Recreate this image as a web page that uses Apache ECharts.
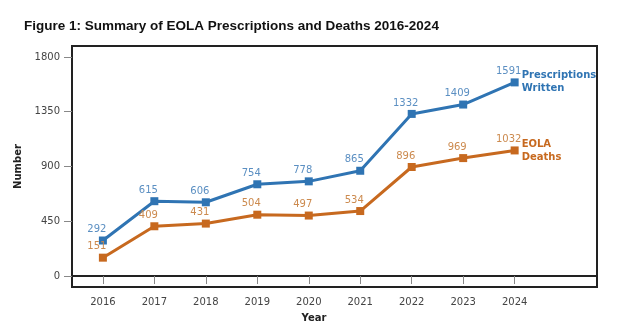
<!DOCTYPE html>
<html><head><meta charset="utf-8">
<script src="https://cdn.jsdelivr.net/npm/echarts@6/dist/echarts.min.js"></script>
<style>html,body{margin:0;padding:0;background:#fff}#c{width:620px;height:326px}</style>
</head><body><div id="c"></div>
<script>
const years = [2016, 2017, 2018, 2019, 2020, 2021, 2022, 2023, 2024];
const prescriptions = [292, 615, 606, 754, 778, 865, 1332, 1409, 1591];
const deaths = [151, 409, 431, 504, 497, 534, 896, 969, 1032];
const yTicks = [0, 450, 900, 1350, 1800];
const seriesNames = ['Prescriptions\nWritten', 'EOLA\nDeaths'];

const blue = '#2f74b3', orange = '#c7691f';
const blueLbl = '#5b8fc2', orangeLbl = '#cc8a4e';
const font = 'DejaVu Sans';

function mk(name, vals, color, lblColor) {
  return {
    type: 'line', name: name,
    data: years.map((y, i) => [y, vals[i]]),
    lineStyle: { color: color, width: 3 },
    itemStyle: { color: color },
    symbol: 'rect', symbolSize: 8,
    label: { show: true, position: 'top', distance: 2, offset: [-6, 0], color: lblColor, fontFamily: font, fontSize: 10,
      formatter: p => p.value[1] },
    endLabel: { show: true, formatter: name, color: color, fontFamily: font, fontWeight: 'bold', fontSize: 10, lineHeight: 13, distance: 7 },
    animation: false, z: 3
  };
}

const chart = echarts.init(document.getElementById('c'), null, { renderer: 'canvas' });
chart.setOption({
  animation: false,
  title: [
    { text: 'Figure 1: Summary of EOLA Prescriptions and Deaths 2016-2024', left: 19, top: 14,
      textStyle: { fontFamily: 'Liberation Sans', fontWeight: 'bold', fontSize: 13.5, color: '#111' } },
    { text: 'Year', left: 309, top: 308, textAlign: 'center',
      textStyle: { fontFamily: font, fontWeight: 'bold', fontSize: 10, color: '#222' } }
  ],
  grid: { left: 72, right: 23, top: 46, bottom: 39, show: true, borderColor: '#222', borderWidth: 2, backgroundColor: 'transparent' },
  xAxis: {
    type: 'value', min: 2015.4, max: 2025.6,
    splitLine: { show: false },
    axisLine: { show: true, lineStyle: { color: '#222', width: 2 } },
    axisTick: { show: true, length: 8, lineStyle: { color: '#888' }, customValues: years },
    axisLabel: { color: '#444', fontFamily: font, fontSize: 10, margin: 10, customValues: years, formatter: v => String(v) }
  },
  yAxis: {
    type: 'value', min: -90, max: 1890,
    name: 'Number', nameLocation: 'middle', nameGap: 44, nameRotate: 90,
    nameTextStyle: { fontFamily: font, fontWeight: 'bold', fontSize: 10, color: '#222' },
    splitLine: { show: false },
    axisLine: { show: true, lineStyle: { color: '#222', width: 2 } },
    axisTick: { show: true, length: 8, lineStyle: { color: '#888' }, customValues: yTicks },
    axisLabel: { color: '#444', fontFamily: font, fontSize: 10, margin: 12, customValues: yTicks, formatter: v => String(v) }
  },
  series: [
    mk(seriesNames[0], prescriptions, blue, blueLbl),
    mk(seriesNames[1], deaths, orange, orangeLbl)
  ]
});
</script></body></html>
